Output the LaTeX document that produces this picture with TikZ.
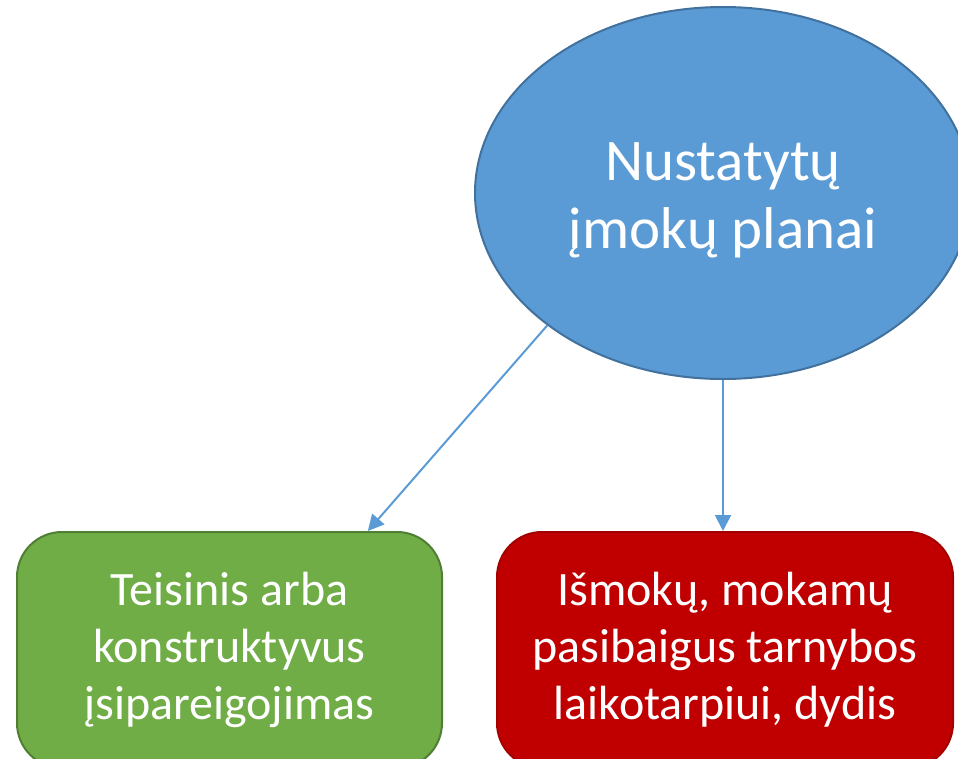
\documentclass[tikz,border=0pt]{standalone}
\usepackage{fontspec}
\setmainfont{Carlito}
\definecolor{planblue}{RGB}{91, 155, 213}
\definecolor{planblueline}{RGB}{65, 113, 156}
\definecolor{dutygreen}{RGB}{112, 173, 71}
\definecolor{dutygreenline}{RGB}{80, 126, 50}
\definecolor{payred}{RGB}{192, 0, 0}
\usetikzlibrary{shapes.geometric, arrows.meta, positioning, calc}

\begin{document}
\begin{tikzpicture}[x=1pt, y=1pt,
    box/.style={rounded corners=45pt, minimum height=236pt, inner sep=0pt, line width=2pt, align=center, text=white, font=\fontsize{48}{57}\selectfont},
    link/.style={draw=planblue, line width=2pt, -{Triangle[length=16pt, width=16pt]}}]
  \useasboundingbox (0, 0) rectangle (958, -758);
  \node[ellipse, draw=planblueline, fill=planblue, line width=2pt, minimum width=496pt, minimum height=372pt, inner sep=0pt, align=center, text=white, font=\fontsize{59}{68}\selectfont] (plans) at (723, -193) {\\[-16pt]Nustatytų\\įmokų planai};
  \node[box, draw=dutygreenline, fill=dutygreen, minimum width=425pt] (duty) at (229.5, -650) {Teisinis arba\\konstruktyvus\\įsipareigojimas};
  \node[box, draw=payred!85!black, fill=payred, minimum width=456pt] (size) at (725, -650) {Išmokų, mokamų\\pasibaigus tarnybos\\laikotarpiui, dydis};
  \draw[link] (plans.217) -- ($(duty.north west)!0.824!(duty.north east)$);
  \draw[link] (plans.south) -- (plans.south |- size.north);
\end{tikzpicture}
\end{document}
